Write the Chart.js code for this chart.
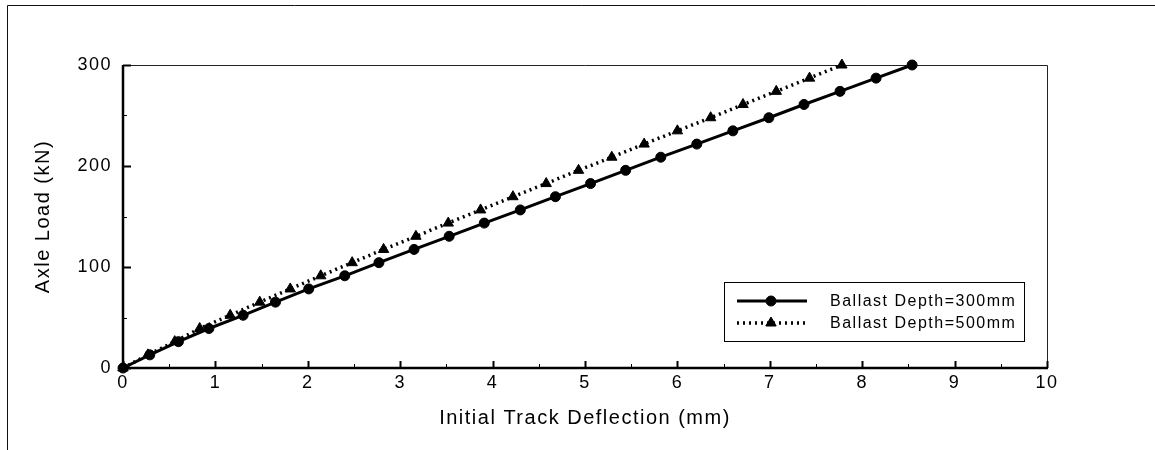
<!DOCTYPE html>
<html>
<head>
<meta charset="utf-8">
<script src="https://cdn.jsdelivr.net/npm/chart.js@4.4.1/dist/chart.umd.min.js"></script>
<style>
  html, body { margin: 0; padding: 0; background: #fff; }
  #wrap { width: 1155px; height: 450px; position: relative; }
</style>
</head>
<body>
<div id="wrap"><canvas id="chart"></canvas></div>
<script>
// axle load steps (kN), shared by both series
const loads = [0, 13, 26.1, 39.1, 52.2, 65.2, 78.3, 91.3, 104.3, 117.4, 130.4, 143.5,
  156.5, 169.6, 182.6, 195.7, 208.7, 221.7, 234.8, 247.8, 260.9, 273.9, 287, 300];
// initial track deflection (mm)
const defl300 = [0, 0.29, 0.60, 0.93, 1.30, 1.65, 2.01, 2.40, 2.77, 3.15, 3.53, 3.91,
  4.30, 4.68, 5.06, 5.44, 5.82, 6.21, 6.60, 6.99, 7.37, 7.76, 8.15, 8.54];
const defl500 = [0, 0.27, 0.56, 0.83, 1.16, 1.48, 1.81, 2.14, 2.48, 2.82, 3.17, 3.52,
  3.87, 4.22, 4.58, 4.93, 5.29, 5.64, 6.00, 6.36, 6.71, 7.07, 7.43, 7.78];
const seriesNames = ['Ballast Depth=300mm', 'Ballast Depth=500mm'];
const xTitle = 'Initial Track Deflection (mm)';
const yTitle = 'Axle Load (kN)';

const FONT = '"Liberation Sans", Arial, sans-serif';
const SPACING = '1.5px';

const spacingPlugin = {
  id: 'spacing',
  beforeLayout(chart) { chart.ctx.letterSpacing = SPACING; },
  beforeDraw(chart) { chart.ctx.letterSpacing = SPACING; }
};

// outer frame + top/right plot border
const framePlugin = {
  id: 'frame',
  beforeDraw(chart) {
    const ctx = chart.ctx;
    ctx.save();
    ctx.strokeStyle = '#111';
    ctx.lineWidth = 1;
    ctx.beginPath();
    ctx.moveTo(7.5, 450);
    ctx.lineTo(7.5, 5.5);
    ctx.lineTo(1155, 5.5);
    ctx.stroke();
    const a = chart.chartArea;
    ctx.strokeStyle = '#222';
    ctx.beginPath();
    ctx.moveTo(a.left, a.top + 0.5);
    ctx.lineTo(a.right + 0.5, a.top + 0.5);
    ctx.lineTo(a.right + 0.5, a.bottom);
    ctx.stroke();
    ctx.restore();
  }
};

// axes lines and ticks pointing into the plot, major and minor
const innerTicks = {
  id: 'innerTicks',
  beforeDatasetsDraw(chart) {
    const ctx = chart.ctx;
    const xs = chart.scales.x, ys = chart.scales.y;
    const a = chart.chartArea;
    ctx.save();
    ctx.strokeStyle = '#000';
    ctx.lineWidth = 2.5;
    ctx.beginPath();
    ctx.moveTo(a.left, a.top);
    ctx.lineTo(a.left, a.bottom);
    ctx.lineTo(a.right + 1, a.bottom);
    ctx.stroke();
    for (let v = xs.min; v <= xs.max + 1e-9; v += 0.5) {
      const major = Math.abs(v - Math.round(v)) < 1e-9;
      const px = Math.round(xs.getPixelForValue(v)) + 0.5;
      ctx.lineWidth = major ? 2 : 1;
      ctx.beginPath();
      ctx.moveTo(px, a.bottom);
      ctx.lineTo(px, a.bottom - (major ? 7 : 4));
      ctx.stroke();
    }
    for (let v = ys.min; v <= ys.max + 1e-9; v += 50) {
      const major = v % 100 === 0;
      const py = Math.round(ys.getPixelForValue(v)) + 0.5;
      ctx.lineWidth = major ? 2 : 1;
      ctx.beginPath();
      ctx.moveTo(a.left, py);
      ctx.lineTo(a.left + (major ? 8 : 4), py);
      ctx.stroke();
    }
    ctx.restore();
  }
};

const legendBox = {
  id: 'legendBox',
  afterDraw(chart) {
    const ctx = chart.ctx;
    const box = { x: 724.5, y: 282.5, w: 300, h: 59 };
    ctx.save();
    ctx.fillStyle = '#fff';
    ctx.fillRect(box.x, box.y, box.w, box.h);
    ctx.strokeStyle = '#000';
    ctx.lineWidth = 1;
    ctx.strokeRect(box.x, box.y, box.w, box.h);
    const rows = [301, 323];
    chart.data.datasets.forEach((ds, i) => {
      const y = rows[i];
      ctx.strokeStyle = '#000';
      ctx.lineWidth = ds.borderWidth;
      ctx.setLineDash(ds.borderDash || []);
      ctx.beginPath();
      ctx.moveTo(737, y);
      ctx.lineTo(807, y);
      ctx.stroke();
      ctx.setLineDash([]);
      ctx.fillStyle = '#000';
      ctx.lineWidth = 1;
      Chart.helpers.drawPoint(ctx, {
        pointStyle: ds.pointStyle, radius: ds.pointRadius, borderWidth: 1
      }, 771, y);
      ctx.fillStyle = '#000';
      ctx.font = '16px ' + FONT;
      ctx.textBaseline = 'middle';
      ctx.textAlign = 'left';
      ctx.fillText(ds.label, 830, y + 1);
    });
    ctx.restore();
  }
};

const ctx = document.getElementById('chart');
new Chart(ctx, {
  type: 'scatter',
  data: {
    datasets: [
      {
        label: seriesNames[0],
        data: loads.map((y, i) => ({ x: defl300[i], y })),
        showLine: true,
        borderColor: '#000',
        backgroundColor: '#000',
        borderWidth: 3,
        pointStyle: 'circle',
        pointRadius: 5,
        pointBorderWidth: 1,
        pointBackgroundColor: '#000',
        pointBorderColor: '#000',
        clip: false
      },
      {
        label: seriesNames[1],
        data: loads.map((y, i) => ({ x: defl500[i], y })),
        showLine: true,
        borderColor: '#000',
        backgroundColor: '#000',
        borderWidth: 3.5,
        borderDash: [2, 4],
        pointStyle: 'triangle',
        pointRadius: 6,
        pointBorderWidth: 1,
        pointBackgroundColor: '#000',
        pointBorderColor: '#000',
        clip: false
      }
    ]
  },
  options: {
    responsive: true,
    maintainAspectRatio: false,
    animation: false,
    layout: { padding: { top: 65, right: 108, left: 0, bottom: 0 } },
    plugins: { legend: { display: false }, tooltip: { enabled: false } },
    scales: {
      x: {
        type: 'linear',
        min: 0,
        max: 10,
        ticks: { stepSize: 1, color: '#000', font: { size: 18, family: FONT }, padding: 4, maxRotation: 0 },
        grid: { display: false, drawTicks: false },
        border: { display: false },
        title: { display: true, text: xTitle, color: '#000', font: { size: 20, family: FONT }, padding: { top: 0, bottom: 20 } },
        afterFit: (s) => { s.height = 82; }
      },
      y: {
        type: 'linear',
        min: 0,
        max: 300,
        ticks: { stepSize: 100, color: '#000', font: { size: 18, family: FONT }, padding: 11 },
        grid: { display: false, drawTicks: false },
        border: { display: false },
        title: { display: true, text: yTitle, color: '#000', font: { size: 20, family: FONT }, padding: { top: 31, bottom: 0 } },
        afterFit: (s) => { s.width = 123; }
      }
    }
  },
  plugins: [spacingPlugin, framePlugin, innerTicks, legendBox]
});
</script>
</body>
</html>
